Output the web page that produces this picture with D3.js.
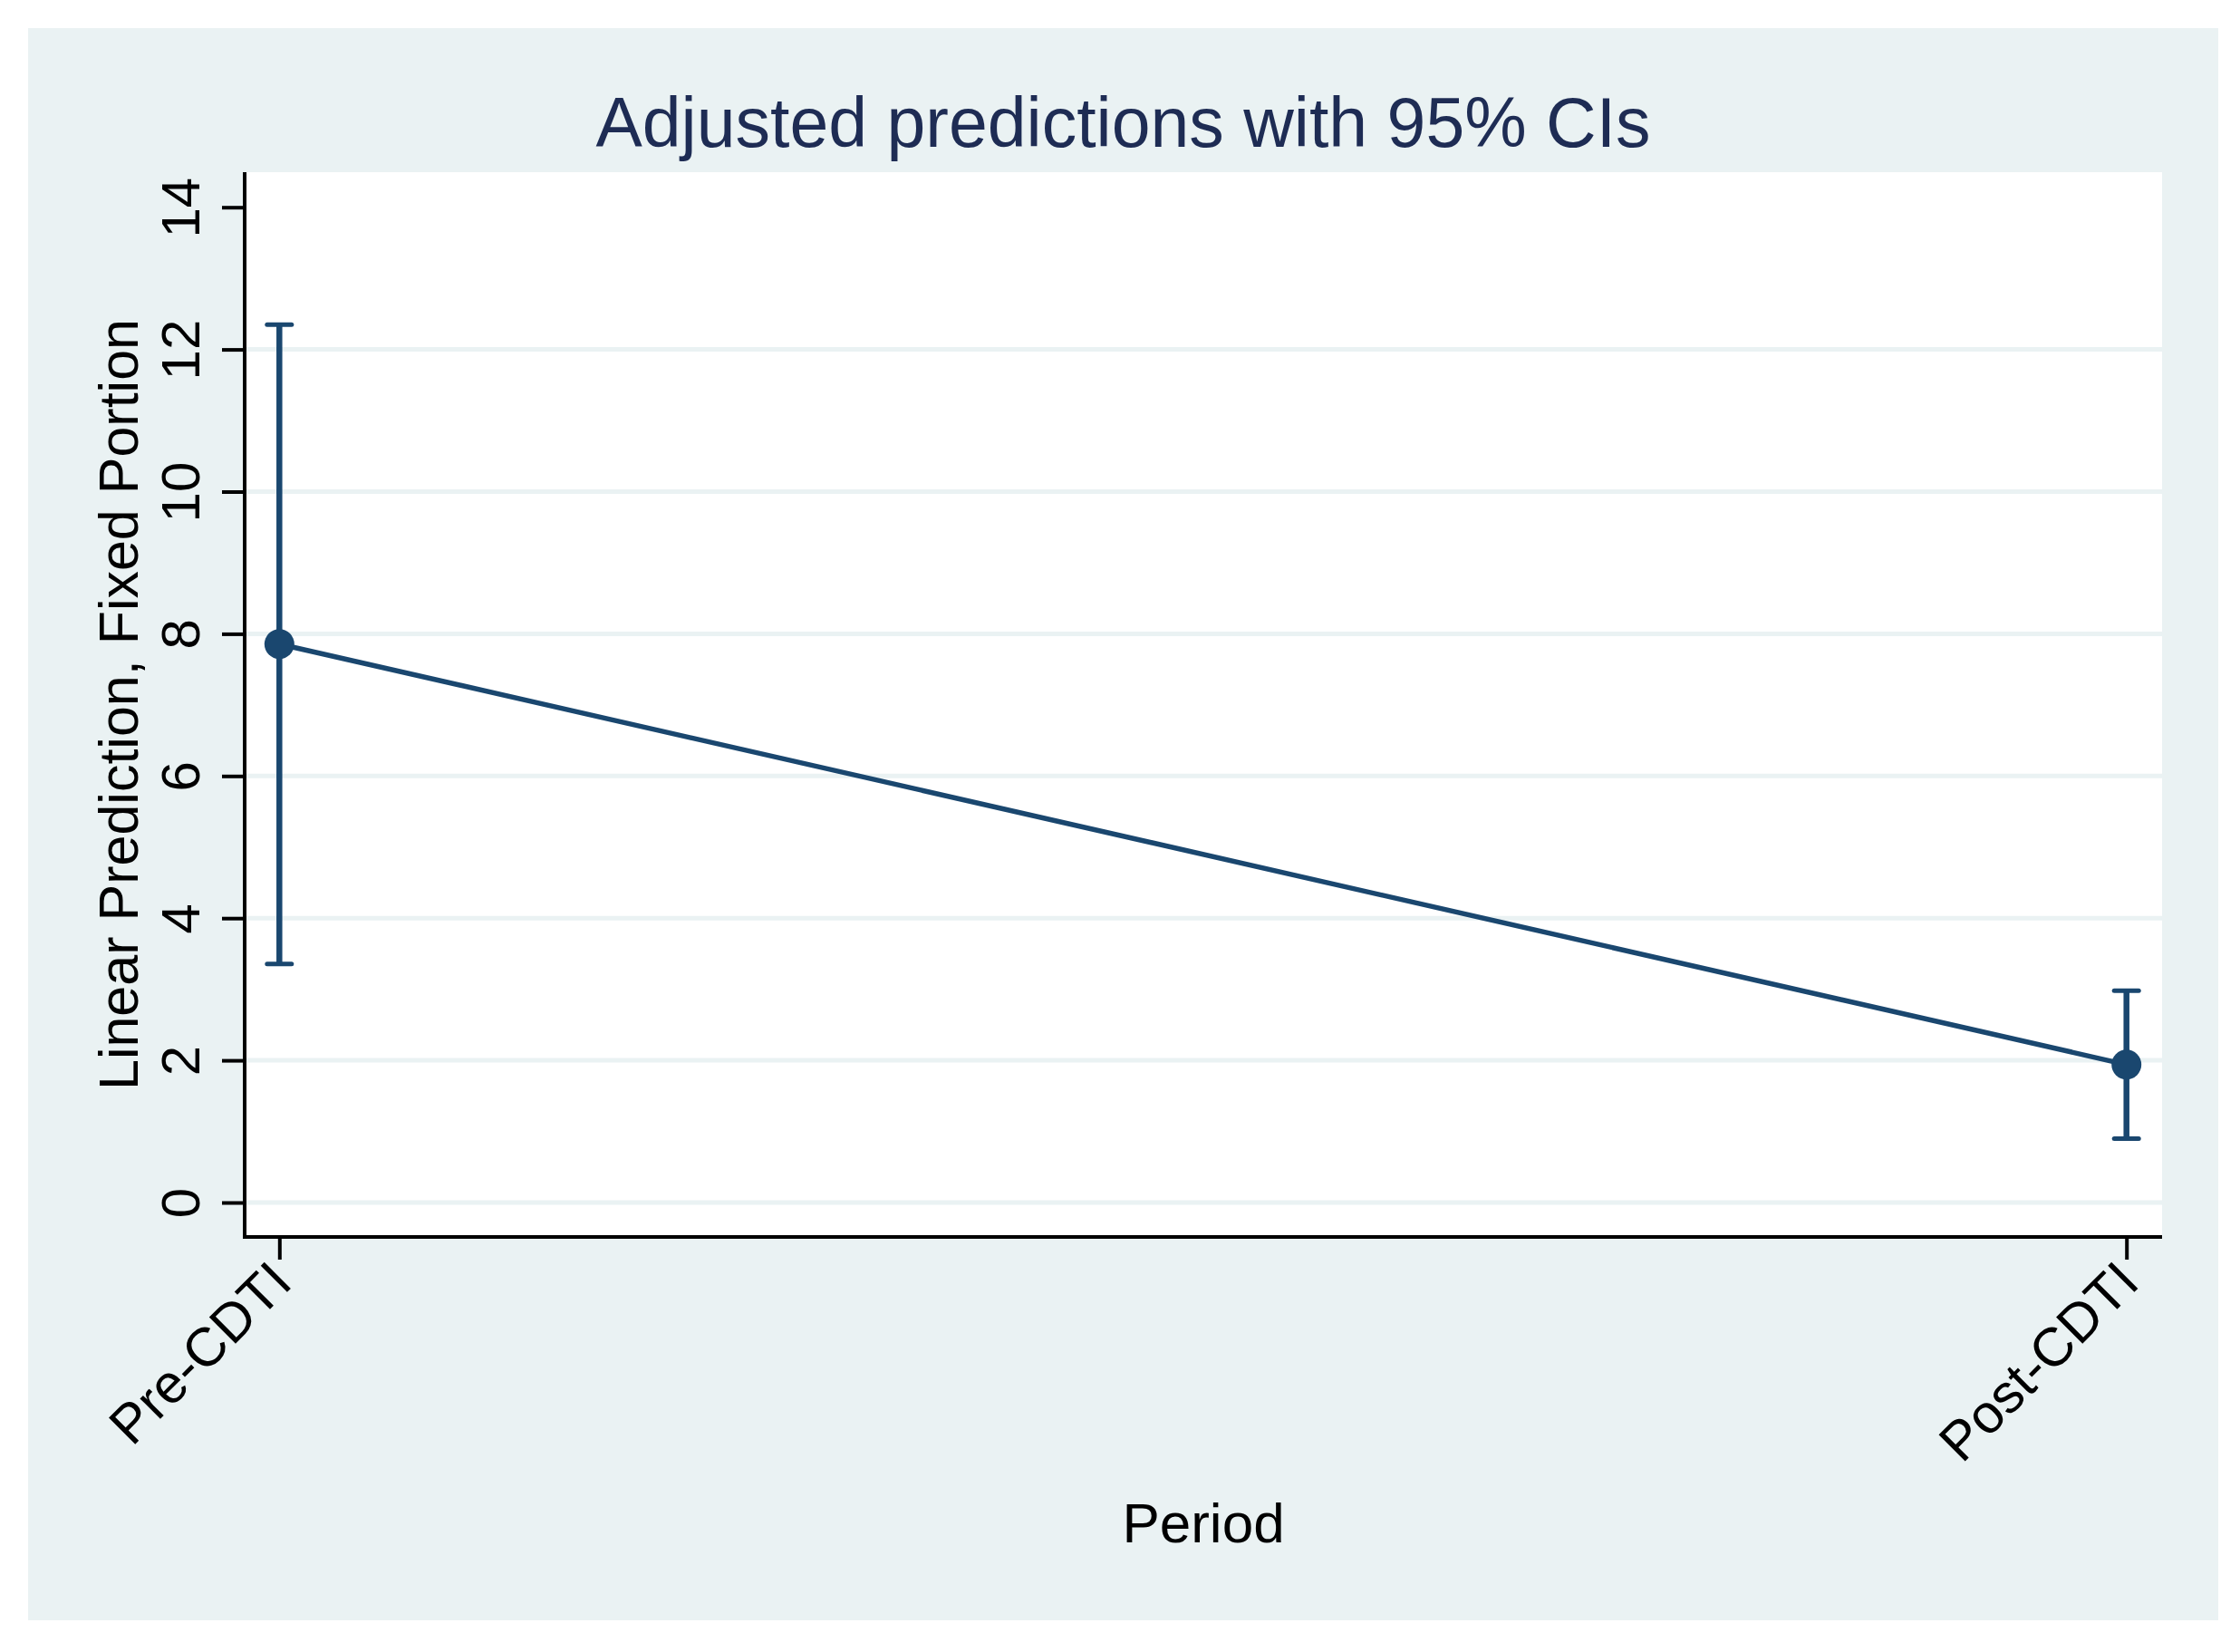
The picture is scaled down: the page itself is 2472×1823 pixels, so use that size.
<!DOCTYPE html>
<html>
<head>
<meta charset="utf-8">
<script src="https://cdn.jsdelivr.net/npm/d3@7"></script>
<style>
  html, body { margin: 0; padding: 0; background: #ffffff; }
  svg { display: block; }
  text { font-family: "Liberation Sans", Arial, Helvetica, sans-serif; }
</style>
</head>
<body>
<script>
// ---- Data ----
const categories = ["Pre-CDTI", "Post-CDTI"];
const predictions = [7.856, 1.94];
const ciLower = [3.356, 0.90];
const ciUpper = [12.35, 2.98];
const yTicks = [0, 2, 4, 6, 8, 10, 12, 14];
const gridTicks = [0, 2, 4, 6, 8, 10, 12];
const chartTitle = "Adjusted predictions with 95% CIs";
const yTitle = "Linear Prediction, Fixed Portion";
const xTitle = "Period";

// ---- Layout ----
const W = 2472, H = 1823;
const bg = { x0: 31, y0: 31, x1: 2448, y1: 1788 };
const plot = { x0: 270, y0: 190, x1: 2386, y1: 1365 };
const navy = "#1a476f";
const bgColor = "#eaf2f3";

const svg = d3.select("body").append("svg")
  .attr("width", W).attr("height", H);

svg.append("rect").attr("x", 0).attr("y", 0).attr("width", W).attr("height", H).attr("fill", "#ffffff");
svg.append("rect")
  .attr("x", bg.x0).attr("y", bg.y0)
  .attr("width", bg.x1 - bg.x0).attr("height", bg.y1 - bg.y0)
  .attr("fill", bgColor);
svg.append("rect")
  .attr("x", plot.x0).attr("y", plot.y0)
  .attr("width", plot.x1 - plot.x0).attr("height", plot.y1 - plot.y0)
  .attr("fill", "#ffffff");

const x = d3.scalePoint().domain(categories).range([308.3, 2346.7]);
const y = d3.scaleLinear().domain([0, 14]).range([1327, 228.7]);

// gridlines
svg.append("g").selectAll("line").data(gridTicks).join("line")
  .attr("x1", plot.x0).attr("x2", plot.x1)
  .attr("y1", d => y(d)).attr("y2", d => y(d))
  .attr("stroke", bgColor).attr("stroke-width", 5);

// y axis
const gy = svg.append("g").attr("transform", `translate(${plot.x0},0)`)
  .call(d3.axisLeft(y).tickValues(yTicks).tickSize(25).tickSizeOuter(0).tickFormat(d3.format("d")));
gy.select(".domain").remove();
gy.selectAll(".tick line").attr("stroke", "#000").attr("stroke-width", 4);
gy.selectAll(".tick text")
  .attr("x", null).attr("dy", null)
  .attr("text-anchor", "middle")
  .attr("transform", "translate(-50,0) rotate(-90)")
  .attr("font-size", 60)
  .attr("fill", "#000")
  .style("font-family", "'Liberation Sans', Arial, sans-serif");

// x axis
const gx = svg.append("g").attr("transform", `translate(0,${plot.y1})`)
  .call(d3.axisBottom(x).tickSize(25).tickSizeOuter(0));
gx.select(".domain").remove();
gx.selectAll(".tick line").attr("stroke", "#000").attr("stroke-width", 4);
gx.selectAll(".tick text")
  .attr("y", null).attr("dy", null)
  .attr("text-anchor", "end")
  .attr("transform", "translate(16,53) rotate(-45)")
  .attr("font-size", 60)
  .attr("fill", "#000")
  .style("font-family", "'Liberation Sans', Arial, sans-serif");

// axis lines
svg.append("line").attr("x1", plot.x0).attr("x2", plot.x0)
  .attr("y1", plot.y0).attr("y2", plot.y1 + 2)
  .attr("stroke", "#000").attr("stroke-width", 4);
svg.append("line").attr("x1", plot.x0 - 2).attr("x2", plot.x1)
  .attr("y1", plot.y1).attr("y2", plot.y1)
  .attr("stroke", "#000").attr("stroke-width", 4);

const rows = categories.map((c, i) => ({ c, p: predictions[i], lo: ciLower[i], hi: ciUpper[i] }));

// error bars
const eb = svg.append("g");
eb.selectAll("line.stem").data(rows).join("line").attr("class", "stem")
  .attr("x1", d => x(d.c)).attr("x2", d => x(d.c))
  .attr("y1", d => y(d.lo)).attr("y2", d => y(d.hi))
  .attr("stroke", navy).attr("stroke-width", 6.5);
["lo", "hi"].forEach(k => {
  eb.selectAll("line.cap" + k).data(rows).join("line").attr("class", "cap" + k)
    .attr("x1", d => x(d.c) - 13.5).attr("x2", d => x(d.c) + 13.5)
    .attr("y1", d => y(d[k])).attr("y2", d => y(d[k]))
    .attr("stroke", navy).attr("stroke-width", 5).attr("stroke-linecap", "round");
});

// connecting line
svg.append("path").datum(rows)
  .attr("d", d3.line().x(d => x(d.c)).y(d => y(d.p)))
  .attr("fill", "none").attr("stroke", navy).attr("stroke-width", 5.5);

// markers
svg.append("g").selectAll("circle").data(rows).join("circle")
  .attr("cx", d => x(d.c)).attr("cy", d => y(d.p)).attr("r", 16.5)
  .attr("fill", navy);

// titles
svg.append("text").attr("x", (bg.x0 + bg.x1) / 2).attr("y", 161.7)
  .attr("text-anchor", "middle").attr("font-size", 77).attr("fill", "#1e2c54")
  .text(chartTitle);
svg.append("text")
  .attr("transform", `translate(152,${(plot.y0 + plot.y1) / 2}) rotate(-90)`)
  .attr("text-anchor", "middle").attr("font-size", 61).attr("fill", "#000")
  .text(yTitle);
svg.append("text").attr("x", (plot.x0 + plot.x1) / 2).attr("y", 1702)
  .attr("text-anchor", "middle").attr("font-size", 62).attr("fill", "#000")
  .text(xTitle);
</script>
</body>
</html>
